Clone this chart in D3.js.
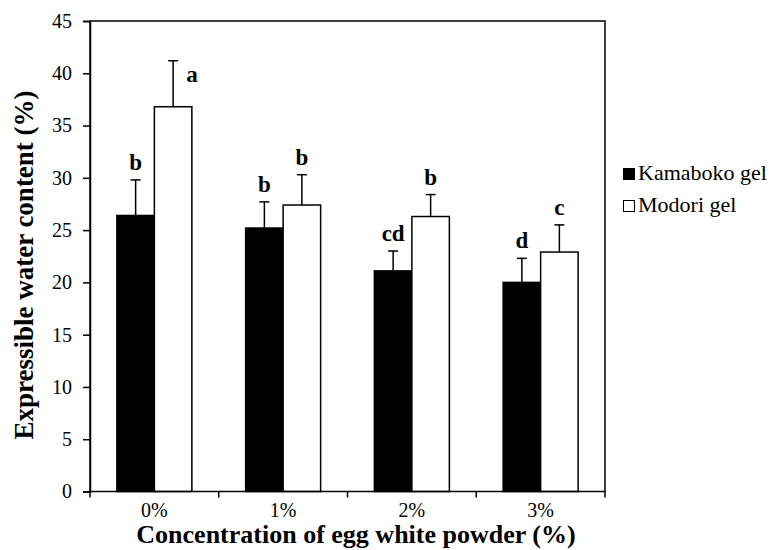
<!DOCTYPE html>
<html>
<head>
<meta charset="utf-8">
<script src="https://cdn.jsdelivr.net/npm/d3@7"></script>
<style>
  @font-face { font-family: "ChartSerif"; src: local("Liberation Serif"), local("LiberationSerif"), local("Tinos"); font-weight: 400; }
  @font-face { font-family: "ChartSerif"; src: local("Liberation Serif Bold"), local("LiberationSerif-Bold"), local("Tinos Bold"); font-weight: 700; }
</style>
</head>
<body style="margin:0">
<svg id="chart" width="770" height="550" font-family="Liberation Serif"></svg>
<script>
// ---- Data ----
const categories = ["0%", "1%", "2%", "3%"];
const seriesNames = ["Kamaboko gel", "Modori gel"];
const kamaboko = [26.4, 25.2, 21.1, 20.0];
const kamabokoErr = [3.4, 2.5, 1.9, 2.3];
const modori = [36.8, 27.4, 26.3, 22.9];
const modoriErr = [4.4, 2.9, 2.1, 2.6];
const kamabokoLetters = ["b", "b", "cd", "d"];
const modoriLetters = ["a", "b", "b", "c"];
const yTicks = [0, 5, 10, 15, 20, 25, 30, 35, 40, 45];
const seriesFill = ["#000000", "#ffffff"];

// ---- Layout ----
const svg = d3.select("#chart");
const plotL = 90, plotR = 605, plotT = 21, plotB = 491.5;
const serifFont = "'Liberation Serif', ChartSerif, Tinos";

function setFont(sel) { return sel.style("font-family", serifFont); }

const x0 = d3.scaleBand().domain(categories).range([plotL, plotR]).paddingInner(0).paddingOuter(0);
const x1 = d3.scaleBand().domain(seriesNames).range([0, x0.bandwidth()]).paddingInner(0).paddingOuter(0.717);
const y = d3.scaleLinear().domain([0, 45]).range([plotB, plotT]);

const rows = [];
categories.forEach((c, i) => {
  rows.push({cat: c, s: seriesNames[0], v: kamaboko[i], e: kamabokoErr[i], l: kamabokoLetters[i], fill: seriesFill[0]});
  rows.push({cat: c, s: seriesNames[1], v: modori[i], e: modoriErr[i], l: modoriLetters[i], fill: seriesFill[1]});
});

// bars
svg.append("g").selectAll("rect").data(rows).join("rect")
  .attr("x", d => x0(d.cat) + x1(d.s))
  .attr("y", d => y(d.v))
  .attr("width", x1.bandwidth())
  .attr("height", d => y(0) - y(d.v))
  .attr("fill", d => d.fill)
  .attr("stroke", "#000")
  .attr("stroke-width", 1.5);

// error bars (upward only)
const eg = svg.append("g").attr("stroke", "#000").attr("stroke-width", 1.5);
rows.forEach(d => {
  const cx = x0(d.cat) + x1(d.s) + x1.bandwidth() / 2;
  eg.append("line").attr("x1", cx).attr("x2", cx).attr("y1", y(d.v)).attr("y2", y(d.v + d.e));
  eg.append("line").attr("x1", cx - 5).attr("x2", cx + 5).attr("y1", y(d.v + d.e)).attr("y2", y(d.v + d.e));
});

// significance letters
rows.forEach(d => {
  const cx = x0(d.cat) + x1(d.s) + x1.bandwidth() / 2;
  const isA = d.l === "a";
  setFont(svg.append("text"))
    .attr("x", isA ? cx + 19 : cx)
    .attr("y", isA ? y(d.v + d.e) + 21 : y(d.v + d.e) - 10)
    .attr("text-anchor", "middle")
    .attr("font-size", 23)
    .attr("font-weight", "bold")
    .text(d.l);
});

// frame
svg.append("rect")
  .attr("x", plotL).attr("y", plotT)
  .attr("width", plotR - plotL).attr("height", plotB - plotT)
  .attr("fill", "none").attr("stroke", "#000").attr("stroke-width", 1.5);

// y axis
const yAxis = d3.axisLeft(y).tickValues(yTicks).tickSize(7).tickPadding(11).tickFormat(d3.format("d"));
const ya = svg.append("g").attr("transform", `translate(${plotL},0)`).call(yAxis);
ya.attr("font-family", "Liberation Serif").attr("font-size", 20);
ya.select(".domain").attr("stroke-width", 1.5);
ya.selectAll(".tick line").attr("stroke-width", 1.5);
setFont(ya.selectAll("text")).attr("font-size", 20).attr("fill", "#000");

// x axis ticks at band boundaries
const xa = svg.append("g").attr("stroke", "#000").attr("stroke-width", 1.5);
const bounds = categories.map(c => x0(c)).concat([x0.range()[1]]);
bounds.forEach(b => {
  xa.append("line").attr("x1", b).attr("x2", b).attr("y1", plotB).attr("y2", plotB + 6);
});
setFont(svg.append("g").selectAll("text").data(categories).join("text"))
  .attr("x", d => x0(d) + x0.bandwidth() / 2)
  .attr("y", 517)
  .attr("text-anchor", "middle")
  .attr("font-size", 20)
  .text(d => d);

// axis titles
setFont(svg.append("text"))
  .attr("x", 356).attr("y", 543)
  .attr("text-anchor", "middle")
  .attr("font-size", 26).attr("font-weight", "bold")
  .text("Concentration of egg white powder (%)");

setFont(svg.append("text"))
  .attr("transform", "translate(33,265) rotate(-90)")
  .attr("text-anchor", "middle")
  .attr("font-size", 27).attr("font-weight", "bold")
  .text("Expressible water content (%)");

// legend
const lg = svg.append("g");
seriesNames.forEach((s, i) => {
  const by = [180, 212][i];
  lg.append("rect").attr("x", 623.5).attr("y", by - 11.5).attr("width", 11).attr("height", 11)
    .attr("fill", seriesFill[i]).attr("stroke", "#000").attr("stroke-width", 1);
  setFont(lg.append("text")).attr("x", 638).attr("y", by)
    .attr("font-size", 22).text(s);
});
</script>
</body>
</html>
